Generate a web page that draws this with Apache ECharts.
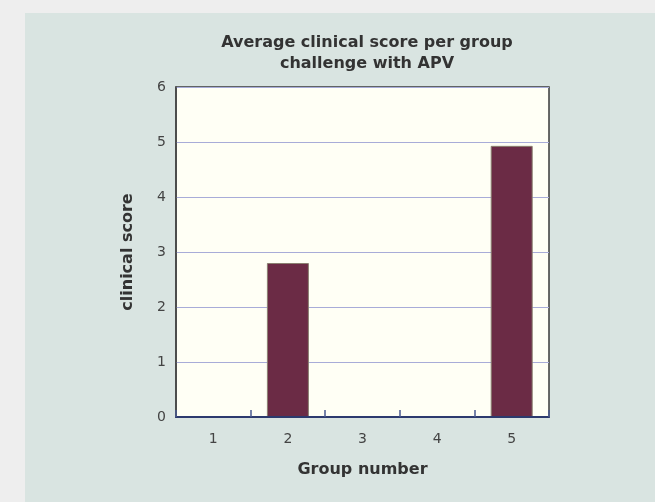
<!DOCTYPE html>
<html>
<head>
<meta charset="utf-8">
<script src="https://cdn.jsdelivr.net/npm/echarts@6/dist/echarts.min.js"></script>
<style>
html, body { margin: 0; padding: 0; background: #eeeeee; }
#main { width: 655px; height: 502px; }
</style>
</head>
<body>
<div id="main"></div>
<script>
var groups = ['1', '2', '3', '4', '5'];
var scores = [0, 2.8, 0, 0, 4.93];
var yTicks = [0, 1, 2, 3, 4, 5, 6];

var chart = echarts.init(document.getElementById('main'));
var font = 'DejaVu Sans';

// zero-height bars get no outline, like the original
var barData = scores.map(function (v) {
    return v === 0 ? { value: v, itemStyle: { borderWidth: 0 } } : v;
});

var option = {
    backgroundColor: '#eeeeee',
    animation: false,
    textStyle: { fontFamily: font },
    graphic: [{
        type: 'rect',
        z: -10,
        silent: true,
        shape: { x: 25, y: 13, width: 630, height: 489 },
        style: { fill: '#d9e4e1' }
    }],
    title: {
        text: 'Average clinical score per group\nchallenge with APV',
        left: 362,
        top: 27,
        textAlign: 'center',
        textStyle: { fontFamily: font, fontSize: 16, fontWeight: 'bold', color: '#333', lineHeight: 21 }
    },
    grid: {
        left: 176, right: 106, top: 87, bottom: 85,
        show: true,
        backgroundColor: '#fffff5',
        borderColor: '#3a3a3a',
        borderWidth: 1.5
    },
    xAxis: {
        type: 'category',
        data: groups,
        z: 10,
        name: 'Group number',
        nameLocation: 'middle',
        nameGap: 45,
        nameTextStyle: { fontFamily: font, fontSize: 16, fontWeight: 'bold', color: '#333' },
        axisLine: { lineStyle: { color: '#2c3a6e', width: 2 } },
        axisTick: { show: true, inside: true, length: 7, interval: 0, lineStyle: { color: '#4a5a90', width: 1.5 } },
        axisLabel: { fontFamily: font, fontSize: 14, color: '#444', margin: 15 }
    },
    yAxis: {
        type: 'value',
        min: 0, max: 6, interval: 1,
        name: 'clinical score',
        nameLocation: 'middle',
        nameGap: 40,
        nameTextStyle: { fontFamily: font, fontSize: 16, fontWeight: 'bold', color: '#333' },
        axisLine: { show: true, lineStyle: { color: '#444', width: 1.5 } },
        axisTick: { show: false },
        axisLabel: { fontFamily: font, fontSize: 14, color: '#444', margin: 10,
            formatter: function (v) { return yTicks.indexOf(v) >= 0 ? String(v) : ''; } },
        splitLine: { lineStyle: { color: '#a8acd8', width: 1 } }
    },
    series: [{
        type: 'bar',
        data: barData,
        barWidth: 42,
        itemStyle: { color: '#6b2b45', borderColor: '#8a8070', borderWidth: 1 }
    }]
};
chart.setOption(option);
</script>
</body>
</html>
